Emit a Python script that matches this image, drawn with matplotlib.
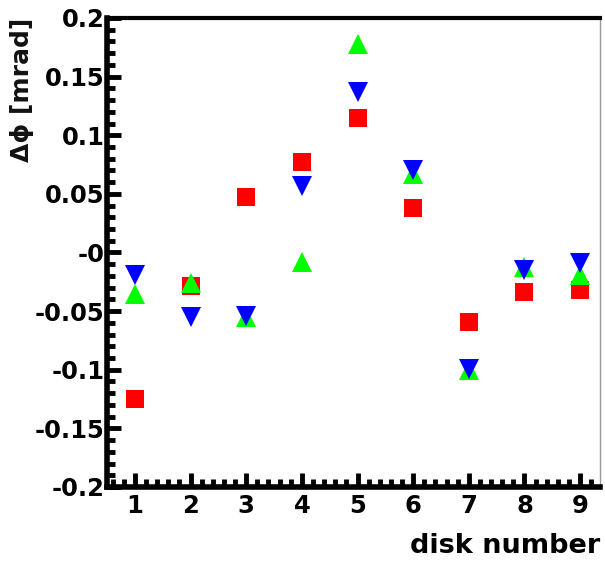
import matplotlib
matplotlib.use("Agg")
import matplotlib.pyplot as plt
from matplotlib.ticker import FixedLocator, FixedFormatter, MultipleLocator

plt.rcParams['font.family'] = ['DejaVu Sans']

disks = [1, 2, 3, 4, 5, 6, 7, 8, 9]
dphi_squares = [-0.125, -0.029, 0.047, 0.077, 0.115, 0.038, -0.059, -0.034, -0.032]
dphi_down = [-0.019, -0.055, -0.054, 0.057, 0.137, 0.070, -0.099, -0.015, -0.009]
dphi_up = [-0.035, -0.026, -0.055, -0.008, 0.178, 0.067, -0.100, -0.012, -0.019]

y_ticks = [-0.2, -0.15, -0.1, -0.05, 0.0, 0.05, 0.1, 0.15, 0.2]
y_ticklabels = ["-0.2", "-0.15", "-0.1", "-0.05", "-0", "0.05", "0.1", "0.15", "0.2"]

fig = plt.figure(figsize=(6.05, 5.62), dpi=100)
ax = fig.add_axes([0.177, 0.1335, 0.815, 0.8345])

# squares first, then up triangles, then down triangles on top
ax.plot(disks, dphi_squares, linestyle='none', marker='s', color='#ff0000',
        markersize=13.5, markeredgewidth=0)
ax.plot(disks, dphi_up, linestyle='none', marker='^', color='#00ff00',
        markersize=14, markeredgewidth=0)
ax.plot(disks, dphi_down, linestyle='none', marker='v', color='#0000ff',
        markersize=14, markeredgewidth=0)

ax.set_xlim(0.5, 9.36)
ax.set_ylim(-0.2, 0.2)

ax.xaxis.set_major_locator(FixedLocator(disks))
ax.xaxis.set_minor_locator(MultipleLocator(0.2))
ax.yaxis.set_major_locator(FixedLocator(y_ticks))
ax.yaxis.set_major_formatter(FixedFormatter(y_ticklabels))
ax.yaxis.set_minor_locator(MultipleLocator(0.01))

ax.tick_params(which='both', direction='in', top=False, right=False, width=3.5, color='black')
ax.tick_params(which='major', length=10)
ax.tick_params(which='minor', length=6)
ax.tick_params(axis='y', which='major', pad=2, labelsize=17.5)
ax.tick_params(axis='x', which='major', pad=5, labelsize=17.5)
for lbl in ax.get_xticklabels() + ax.get_yticklabels():
    lbl.set_fontweight('bold')

ax.spines['left'].set_linewidth(4)
ax.spines['bottom'].set_linewidth(4)
ax.spines['top'].set_linewidth(3)
ax.spines['right'].set_linewidth(1)
ax.spines['right'].set_color('#999999')

fig.text(0.036, 0.968, "Δϕ [mrad]", rotation=90, ha='center', va='top',
         fontsize=18, fontweight='bold', color='#111111')
fig.text(0.992, 0.005, "disk number", ha='right', va='bottom',
         fontsize=19.5, fontweight='bold')

fig.savefig("out.png", dpi=100)
